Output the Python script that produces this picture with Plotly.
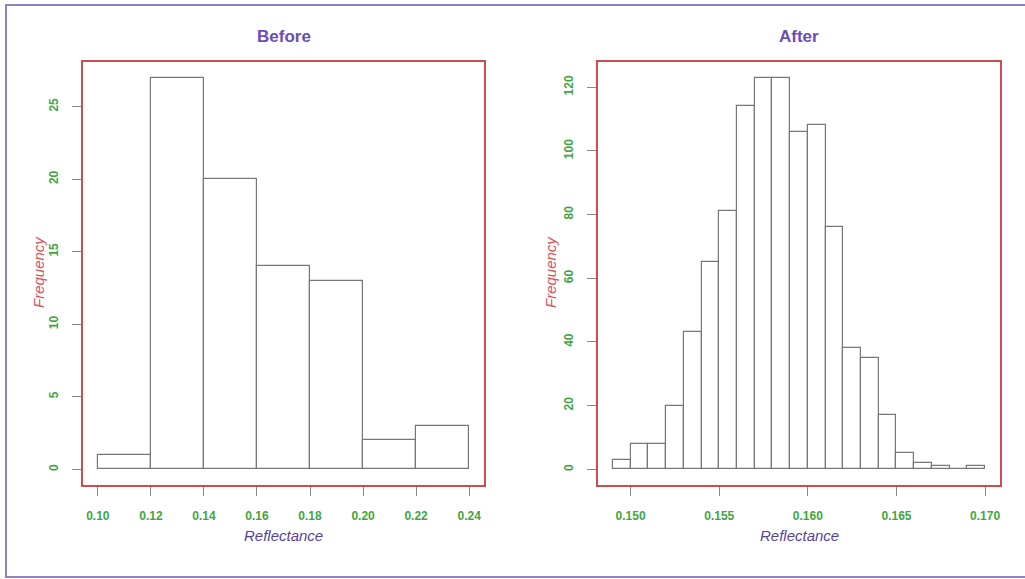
import plotly.graph_objects as go

# ---- data ----
before_edges = [0.10, 0.12, 0.14, 0.16, 0.18, 0.20, 0.22, 0.24]
before_counts = [1, 27, 20, 14, 13, 2, 3]

after_edges = [0.149, 0.150, 0.151, 0.152, 0.153, 0.154, 0.155, 0.156, 0.157, 0.158,
               0.159, 0.160, 0.161, 0.162, 0.163, 0.164, 0.165, 0.166, 0.167, 0.168,
               0.169, 0.170]
after_counts = [3, 8, 8, 20, 43, 65, 81, 114, 123, 123, 106, 108, 76, 38, 35, 17, 5, 2, 1, 0, 1]

before_xticks = [0.10, 0.12, 0.14, 0.16, 0.18, 0.20, 0.22, 0.24]
before_yticks = [0, 5, 10, 15, 20, 25]
after_xticks = [0.150, 0.155, 0.160, 0.165, 0.170]
after_yticks = [0, 20, 40, 60, 80, 100, 120]

titles = ["Before", "After"]
xlab = "Reflectance"
ylab = "Frequency"

W, H = 1025, 579
RED = "#cc4d4d"
GREEN = "#3fa63f"
PURPLE_T = "#6a4db5"
PURPLE_X = "#5a3f9e"
FREQ = "#d9505a"
BAR_LINE = "#777777"
FONT = "Liberation Sans, Arial, sans-serif"


def mids(edges):
    return [(edges[i] + edges[i + 1]) / 2 for i in range(len(edges) - 1)]


def widths(edges):
    return [edges[i + 1] - edges[i] for i in range(len(edges) - 1)]


def rext(lo, hi):
    d = (hi - lo) * 0.04
    return [lo - d, hi + d]


fig = go.Figure()
fig.add_trace(go.Bar(x=mids(before_edges), y=before_counts, width=widths(before_edges),
                     marker=dict(color="white", line=dict(color=BAR_LINE, width=1.2)),
                     xaxis="x", yaxis="y", showlegend=False, hoverinfo="x+y"))
fig.add_trace(go.Bar(x=mids(after_edges), y=after_counts, width=widths(after_edges),
                     marker=dict(color="white", line=dict(color=BAR_LINE, width=1.2)),
                     xaxis="x2", yaxis="y2", showlegend=False, hoverinfo="x+y"))

px = lambda v: v / W
py = lambda v: 1 - v / H

dom_y = [py(485), py(62)]
dom_x1 = [px(83), px(484)]
dom_x2 = [px(598), px(1000)]

tickfont = dict(family=FONT, size=12, color=GREEN, weight="bold")
common_axis = dict(showgrid=False, zeroline=False, showline=True, mirror=True,
                   linecolor=RED, linewidth=1.6, ticks="outside", ticklen=9,
                   tickcolor="#888888", tickwidth=1, tickfont=tickfont, fixedrange=True)

fig.update_layout(
    width=W, height=H,
    margin=dict(l=0, r=0, t=0, b=0),
    paper_bgcolor="white", plot_bgcolor="white",
    bargap=0,
    xaxis=dict(domain=dom_x1, anchor="y", range=rext(before_edges[0], before_edges[-1]),
               tickvals=before_xticks, tickformat=".2f", ticklabelstandoff=10, **common_axis),
    yaxis=dict(domain=dom_y, anchor="x", range=rext(0, max(before_counts)),
               tickvals=before_yticks, tickangle=-90, ticklabelstandoff=9, **common_axis),
    xaxis2=dict(domain=dom_x2, anchor="y2", range=rext(after_edges[0], after_edges[-1]),
                tickvals=after_xticks, tickformat=".3f", ticklabelstandoff=10, **common_axis),
    yaxis2=dict(domain=dom_y, anchor="x2", range=rext(0, max(after_counts)),
                tickvals=after_yticks, tickangle=-90, ticklabelstandoff=9, **common_axis),
)

annotations = []
for cx, t in zip([283.5, 799], titles):
    annotations.append(dict(x=px(cx), y=py(36.5), xref="paper", yref="paper", text=t,
                            showarrow=False, xanchor="center", yanchor="middle",
                            font=dict(family=FONT, size=17, color=PURPLE_T, weight="bold")))
for cx in [283.5, 799]:
    annotations.append(dict(x=px(cx), y=py(535), xref="paper", yref="paper", text=xlab,
                            showarrow=False, xanchor="center", yanchor="middle",
                            font=dict(family=FONT, size=15, color=PURPLE_X, style="italic")))
for cx in [38, 550]:
    annotations.append(dict(x=px(cx), y=py(272), xref="paper", yref="paper", text=ylab,
                            showarrow=False, xanchor="center", yanchor="middle", textangle=-90,
                            font=dict(family=FONT, size=15, color=FREQ, style="italic")))
fig.update_layout(annotations=annotations)

fig.add_shape(type="rect", xref="paper", yref="paper",
              x0=px(6), x1=px(1040), y0=py(577), y1=py(5),
              line=dict(color="#8f80c8", width=2), layer="above")

fig.write_html("out.html", config={"displayModeBar": False},
               post_script="document.body.style.margin='0px';document.body.style.overflow='hidden';")
